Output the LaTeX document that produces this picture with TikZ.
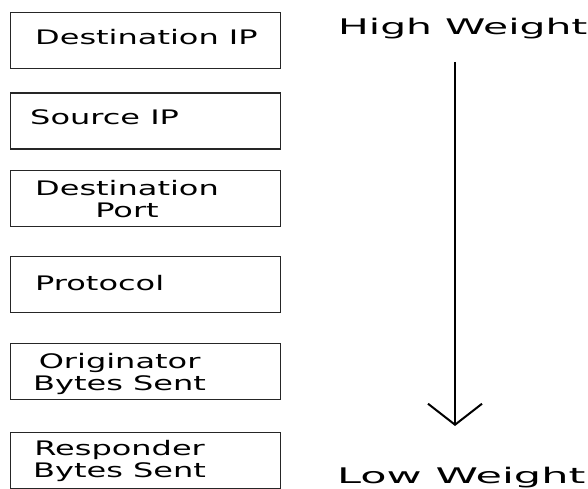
\documentclass[tikz,border=0pt]{standalone}
\usepackage{fontspec}
\setmainfont{DejaVu Sans}
\usepackage{graphicx}
\usetikzlibrary{arrows.meta}
\newcommand{\wt}[1]{\scalebox{1.6}[1]{#1}}
\newcommand{\wh}[2]{\scalebox{#1}[1]{#2}}
\begin{document}
\begin{tikzpicture}[x=1pt,y=-1pt,
  fieldbox/.style={draw=black!85, line width=1.3pt, minimum width=270pt, minimum height=56pt, inner sep=0pt, anchor=north west},
  fieldtxt/.style={inner sep=0pt, font=\fontsize{20}{22}\selectfont, align=center},
  weighttxt/.style={inner sep=0pt, font=\fontsize{21.5}{24}\selectfont, anchor=base west}]
\useasboundingbox (0,0) rectangle (588,489);
% boxes
\node[fieldbox] (b1) at (10,12) {};
\node[fieldbox] (b2) at (10,92.5) {};
\node[fieldbox] (b3) at (10,170) {};
\node[fieldbox] (b4) at (10,255.5) {};
\node[fieldbox] (b5) at (10,343) {};
\node[fieldbox] (b6) at (10,431.5) {};
% texts
\node[fieldtxt, anchor=base west] (t1) at (35,45) {\wt{Destination IP}};
\node[fieldtxt, anchor=base west] (t2) at (30,125) {\wt{Source IP}};
\node[fieldtxt, anchor=west] (t3) at (35,199.4) {\wt{Destination}\\\wt{Port}};
\node[fieldtxt, anchor=base west] (t4) at (35,290) {\wt{Protocol}};
\node[fieldtxt, anchor=west] (t5) at (33,374.3) {\wt{Originator}\\\wt{Bytes Sent}};
\node[fieldtxt, anchor=west] (t6) at (33,460.8) {\wt{Responder}\\\wt{Bytes Sent}};
% weights
\node[weighttxt] (hw) at (338,35) {\wh{1.9}{High Weight}};
\node[weighttxt] (lw) at (337,483) {\wh{2.0}{Low Weight}};
\coordinate (atop) at (455,62);
\coordinate (abot) at (455,426);
\draw[line width=2pt, -{Straight Barb[length=21pt, width=54pt, line width=2pt]}] (atop) -- (abot);
\end{tikzpicture}
\end{document}
